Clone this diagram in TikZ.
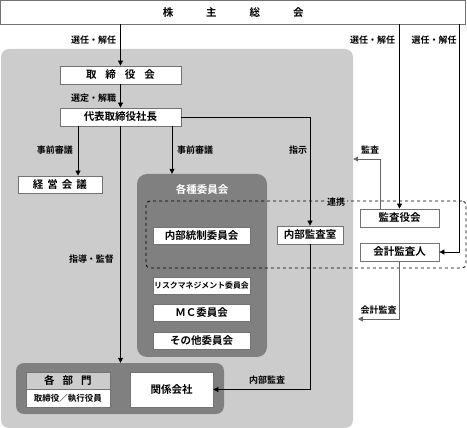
\documentclass[tikz,border=0pt]{standalone}
\usepackage{fontspec}
\setmainfont{Noto Sans CJK JP}[BoldFont={* Bold}]
\usetikzlibrary{arrows.meta}
\definecolor{bgpanel}{HTML}{CCCCCC}
\definecolor{darkpanel}{HTML}{808080}

\begin{document}
\begin{tikzpicture}[x=1pt,y=-1pt,
	box/.style = {draw=black!55, fill=white, line width=0.8pt,
		inner sep=0pt, font=\fontsize{10.5}{12}\selectfont\bfseries},
	panel/.style = {fill=#1, inner sep=0pt},
	lbl/.style = {inner sep=0pt, font=\fontsize{9}{10}\selectfont\bfseries},
	conn/.style = {line width=0.8pt, -{Triangle[length=5pt,width=5pt]}},
	grayconn/.style = {conn, draw=black!60}]
\useasboundingbox (0,0) rectangle (467,428);
% panels
\node[panel=bgpanel, rounded corners=8pt, minimum width=352pt, minimum height=379pt]
	(BG) at (177,238.5) {};
\node[panel=darkpanel, rounded corners=10pt, minimum width=130pt, minimum height=183pt]
	(CP) at (202,265.5) {};
\node[panel=darkpanel, rounded corners=8pt, minimum width=208pt, minimum height=51pt]
	(DP) at (120,388.5) {};
\node[draw, dashed, line width=0.8pt, rounded corners=4pt, inner sep=0pt,
	minimum width=320pt, minimum height=67pt] (LINK) at (306,234.5) {};
% boxes
\node[box, minimum width=465pt, minimum height=23.5pt] (GM) at (233.25,12.25)
	{株\hspace{33pt}主\hspace{33pt}総\hspace{33pt}会};
\node[box, minimum width=121pt, minimum height=18pt] (BD) at (120.5,75)
	{取\hspace{9pt}締\hspace{9pt}役\hspace{9pt}会};
\node[box, minimum width=121pt, minimum height=18pt] (CEO) at (120.5,117) {代表取締役社長};
\node[box, minimum width=84pt, minimum height=17pt] (MGT) at (60,184.5)
	{経\hspace{4pt}営\hspace{4pt}会\hspace{4pt}議};
\node[lbl, text=white, font=\fontsize{10.5}{12}\selectfont\bfseries] (COM) at (202,189) {各種委員会};
\node[box, minimum width=97pt, minimum height=17pt] (ICC) at (201.5,235.5) {内部統制委員会};
\node[box, minimum width=97pt, minimum height=17pt, font=\fontsize{7.9}{9}\selectfont\bfseries]
	(RMC) at (201.5,285.5) {リスクマネジメント委員会};
\node[box, minimum width=97pt, minimum height=17pt] (MCC) at (201.5,313) {ＭＣ委員会};
\node[box, minimum width=97pt, minimum height=17pt] (OTC) at (201.5,340.5) {その他委員会};
\node[box, minimum width=66pt, minimum height=18pt] (IAD) at (310,235) {内部監査室};
\node[box, minimum width=79pt, minimum height=18pt] (ASB) at (399.5,218) {監査役会};
\node[box, minimum width=79pt, minimum height=18pt] (ACA) at (399.5,252) {会計監査人};
\node[box, fill=bgpanel, minimum width=84pt, minimum height=17pt] (DPT) at (68,380.5)
	{各\hspace{8pt}部\hspace{8pt}門};
\node[box, minimum width=84pt, minimum height=18pt, font=\fontsize{8.5}{9}\selectfont\bfseries]
	(EXE) at (68,398) {取締役／執行役員};
\node[box, minimum width=83pt, minimum height=35pt] (AFF) at (171.5,389.5) {関係会社};
% connectors
\coordinate (c1) at (78,126);
\coordinate (c2) at (172,126);
\draw[conn] (GM.south -| BD) -- (BD);
\draw[conn] (BD) -- (CEO);
\draw[conn] (c1) -- (c1 |- MGT.north);
\draw[conn] (c2) -- (c2 |- CP.north);
\draw[conn] (CEO) -- (CEO |- DP.north);
\draw[conn] (CEO.east) -| (IAD.north);
\draw[conn] (IAD.south) |- (AFF.east);
\draw[conn] (GM.south -| ASB) -- (ASB);
\draw[conn] (GM.south -| 459,0) |- (ACA.east);
\draw[grayconn] (ASB.north -| 380,0) |- (BG.east |- 0,159);
\draw[grayconn] (ACA.south) |- (358,319);
% labels
\node[lbl] (L1) at (93.5,40) {選任・解任};
\node[lbl] (L2) at (93.5,98) {選定・解職};
\node[lbl] (L3) at (55,150) {事前審議};
\node[lbl] (L4) at (195,150) {事前審議};
\node[lbl] (L5) at (298,150) {指示};
\node[lbl] (L6) at (91.5,259) {指導・監督};
\node[lbl] (L7) at (372.5,40) {選任・解任};
\node[lbl] (L8) at (434,40) {選任・解任};
\node[lbl] (L9) at (370,150) {監査};
\node[lbl, fill=bgpanel, inner sep=2pt] (L10) at (336,202) {連携};
\node[lbl] (L11) at (378.5,310) {会計監査};
\node[lbl] (L12) at (267,380) {内部監査};
\end{tikzpicture}
\end{document}
